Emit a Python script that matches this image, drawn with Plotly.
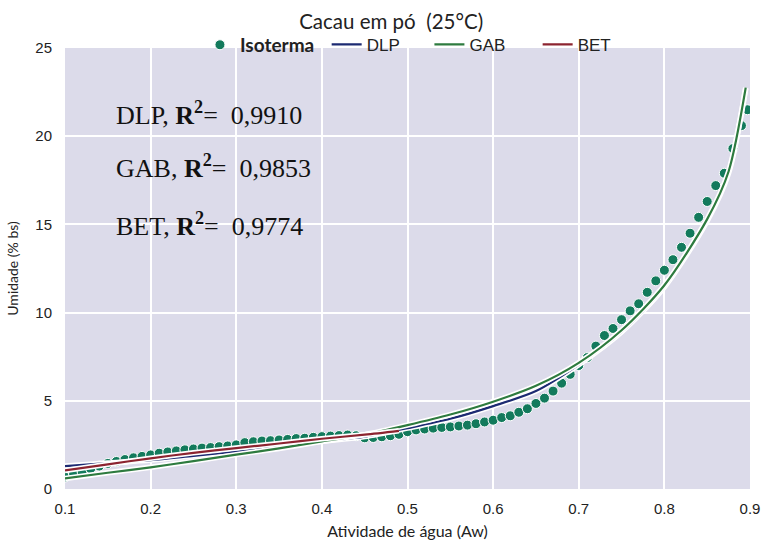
import plotly.graph_objects as go

# ---- data ----
aw_iso = [0.10, 0.11, 0.12, 0.13, 0.14, 0.15, 0.16, 0.17, 0.18, 0.19,
          0.20, 0.21, 0.22, 0.23, 0.24, 0.25, 0.26, 0.27, 0.28, 0.29,
          0.30, 0.31, 0.32, 0.33, 0.34, 0.35, 0.36, 0.37, 0.38, 0.39,
          0.40, 0.41, 0.42, 0.43, 0.44, 0.45, 0.46, 0.47, 0.48, 0.49,
          0.50, 0.51, 0.52, 0.53, 0.54, 0.55, 0.56, 0.57, 0.58, 0.59,
          0.60, 0.61, 0.62, 0.63, 0.64, 0.65, 0.66, 0.67, 0.68, 0.69,
          0.70, 0.71, 0.72, 0.73, 0.74, 0.75, 0.76, 0.77, 0.78, 0.79,
          0.80, 0.81, 0.82, 0.83, 0.84, 0.85, 0.86, 0.87, 0.88, 0.89, 0.897]
m_iso = [0.68, 0.85, 0.97, 1.15, 1.30, 1.45, 1.56, 1.67, 1.77, 1.85,
         1.93, 2.03, 2.10, 2.16, 2.22, 2.27, 2.32, 2.35, 2.40, 2.44,
         2.50, 2.63, 2.68, 2.72, 2.74, 2.78, 2.81, 2.86, 2.88, 2.93,
         2.97, 3.00, 3.03, 3.06, 3.02, 2.90, 2.92, 2.96, 3.02, 3.10,
         3.25, 3.35, 3.40, 3.45, 3.49, 3.52, 3.57, 3.62, 3.70, 3.80,
         3.90, 4.05, 4.15, 4.35, 4.55, 4.85, 5.15, 5.55, 6.00, 6.50,
         7.00, 7.45, 8.10, 8.70, 9.10, 9.60, 10.10, 10.50, 11.15, 11.80,
         12.40, 13.00, 13.70, 14.50, 15.40, 16.30, 17.20, 17.90, 19.30, 20.60, 21.50]

aw_fit = [0.10, 0.15, 0.20, 0.25, 0.30, 0.35, 0.40, 0.45, 0.50, 0.55,
          0.60, 0.65, 0.70, 0.75, 0.80, 0.85, 0.875, 0.895]
m_dlp = [1.30, 1.47, 1.64, 1.88, 2.12, 2.40, 2.70, 2.97, 3.45, 3.98,
         4.70, 5.55, 7.05, 8.90, 11.45, 15.20, 17.90, 22.70]
m_gab = [0.60, 0.92, 1.23, 1.58, 1.95, 2.30, 2.70, 3.08, 3.62, 4.22,
         4.95, 5.85, 7.15, 9.00, 11.55, 15.30, 18.00, 22.75]

aw_bet = [0.10, 0.15, 0.20, 0.25, 0.30, 0.35, 0.40, 0.45, 0.49]
m_bet = [1.05, 1.40, 1.74, 2.05, 2.32, 2.58, 2.85, 3.08, 3.30]

r2_labels = ["DLP, <b>R<sup>2</sup></b>= \u00a00,9910",
             "GAB, <b>R<sup>2</sup></b>= \u00a00,9853",
             "BET, <b>R<sup>2</sup></b>= \u00a00,9774"]
r2_y = [21.27, 18.27, 15.02]

x_ticks = [0.1, 0.2, 0.3, 0.4, 0.5, 0.6, 0.7, 0.8, 0.9]
y_ticks = [0, 5, 10, 15, 20, 25]

# ---- styles ----
C_ISO = "#137a5c"
C_DLP = "#1c2a72"
C_GAB = "#2e7b3f"
C_BET = "#8c2430"

fig = go.Figure()

fig.add_trace(go.Scatter(
    x=aw_iso, y=m_iso, mode="markers", name="<b>Isoterma</b>", legend="legend",
    marker=dict(color=C_ISO, size=10, line=dict(color="white", width=1)),
))

fits = [(aw_fit, m_dlp, C_DLP, "DLP", "legend2"),
        (aw_fit, m_gab, C_GAB, "GAB", "legend3"),
        (aw_bet, m_bet, C_BET, "BET", "legend4")]
for xs, ys, col, nm, lg in fits:
    fig.add_trace(go.Scatter(
        x=xs, y=ys, mode="lines", showlegend=False, hoverinfo="skip",
        line=dict(color="white", width=5.5, shape="spline", smoothing=0.8),
    ))
    fig.add_trace(go.Scatter(
        x=xs, y=ys, mode="lines", name=nm, legend=lg,
        line=dict(color=col, width=2.2, shape="spline", smoothing=0.8),
    ))

for txt, yy in zip(r2_labels, r2_y):
    fig.add_annotation(
        x=0.1572, y=yy, xref="x", yref="y", text=txt, showarrow=False,
        xanchor="left", yanchor="middle",
        font=dict(family="Liberation Serif", size=26, color="#111111"),
    )

leg_common = dict(orientation="h", y=1.007, yanchor="middle", xanchor="left",
                  bgcolor="rgba(0,0,0,0)", itemwidth=30)
fig.update_layout(
    width=761, height=544,
    margin=dict(l=65, r=11, t=48, b=55),
    paper_bgcolor="white",
    plot_bgcolor="#dcdbea",
    title=dict(text="Cacau em pó  (25°C)", x=0.514, xanchor="center",
               y=0.96, yanchor="middle",
               font=dict(family="Lato", size=20.5, color="#222222")),
    legend=dict(x=0.197, font=dict(family="Lato", size=19, color="#222222"), **leg_common),
    legend2=dict(x=0.382, font=dict(family="Liberation Sans", size=17, color="#222222"), **leg_common),
    legend3=dict(x=0.532, font=dict(family="Liberation Sans", size=17, color="#222222"), **leg_common),
    legend4=dict(x=0.690, font=dict(family="Liberation Sans", size=17, color="#222222"), **leg_common),
    font=dict(family="Liberation Sans", color="#222222"),
)

fig.update_xaxes(
    range=[0.1, 0.9], tickvals=x_ticks, ticktext=[f"{v:.1f}" for v in x_ticks],
    showgrid=True, gridcolor="white", gridwidth=1.6, zeroline=False,
    showline=False, ticks="", automargin=False, ticklabelstandoff=9,
    tickfont=dict(size=15, color="#222222"),
    title=dict(text="Atividade de água (Aw)", font=dict(family="Lato", size=16, color="#222222"),
               standoff=9),
)
fig.update_yaxes(
    range=[0, 25], tickvals=y_ticks,
    showgrid=True, gridcolor="white", gridwidth=1.6, zeroline=False,
    showline=False, ticks="", automargin=False, ticklabelstandoff=12,
    tickfont=dict(size=15, color="#222222"),
    title=dict(text="Umidade (% bs)", font=dict(family="Lato", size=14, color="#222222"),
               standoff=13),
)

fig.write_html("out.html", config={"displayModeBar": False},
               post_script="document.body.style.margin='0';")
